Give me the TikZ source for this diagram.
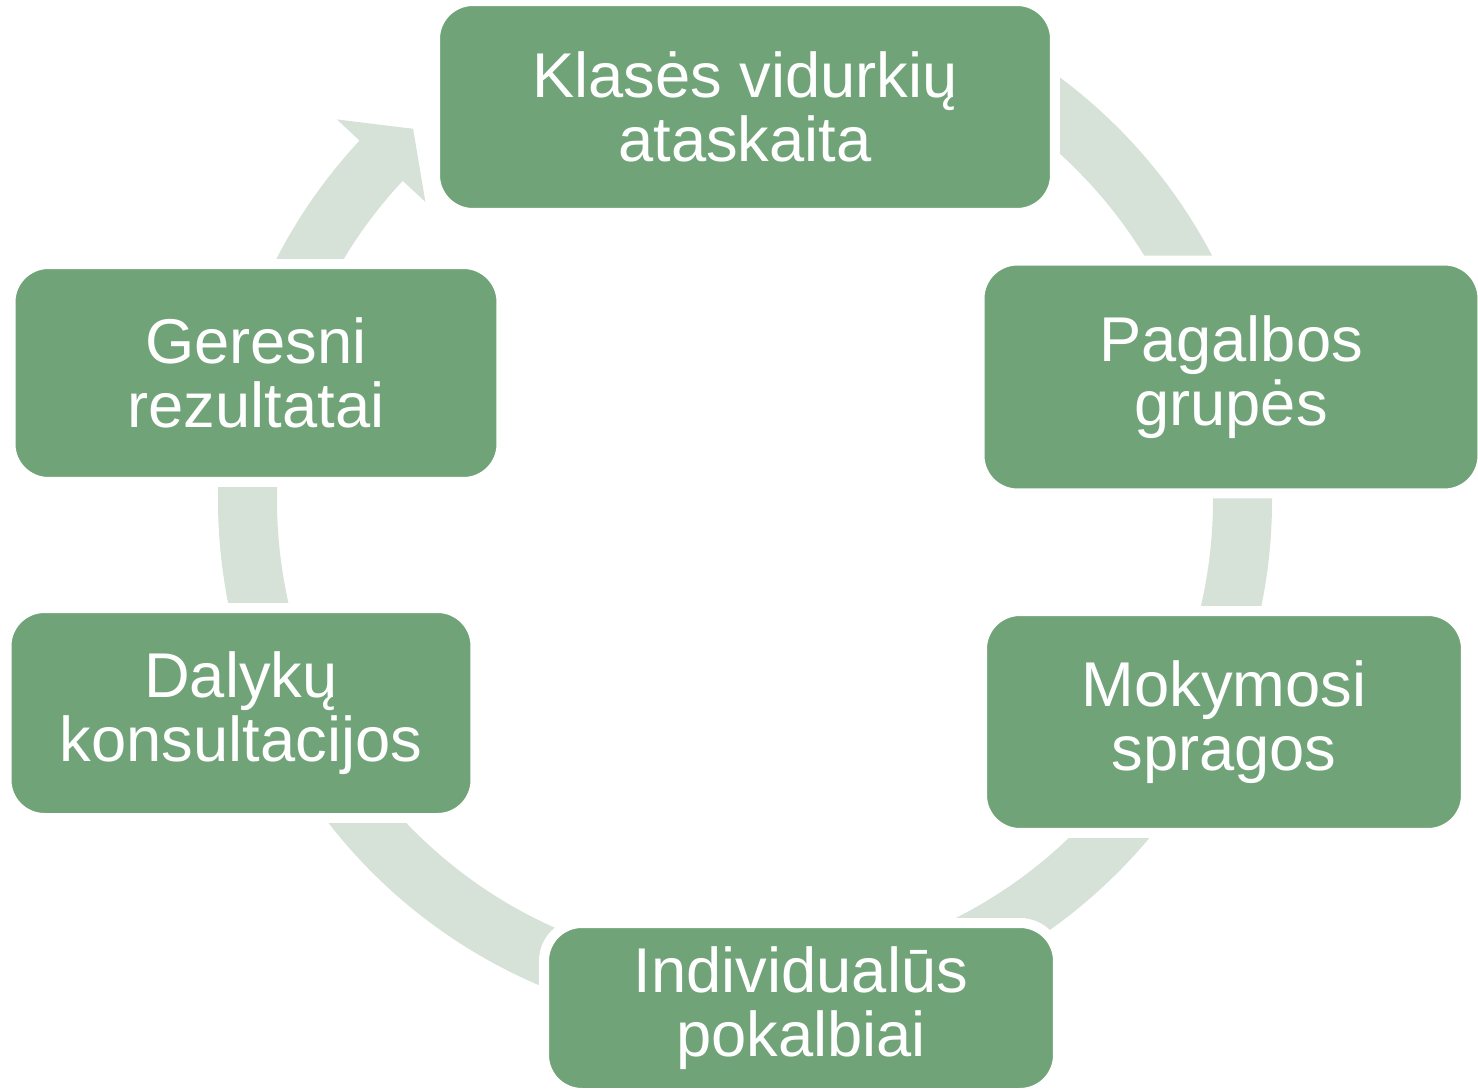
\documentclass[tikz,border=0pt]{standalone}
\usepackage{fontspec}
\setmainfont{Liberation Sans}
\usepackage{xcolor}
\definecolor{boxgreen}{RGB}{113,163,120}
\definecolor{ringgreen}{RGB}{214,225,215}

\begin{document}
\begin{tikzpicture}[x=0.1mm, y=-0.1mm,
  stage/.style={rectangle, rounded corners=3.8mm, fill=boxgreen, draw=white,
    line width=1mm, text=white, align=center, inner sep=0pt,
    font=\fontsize{18}{18.4}\selectfont}]
  \useasboundingbox (0,0) rectangle (1478,1090);

  % Cycle ring, open end hidden under the top box, arrow head before it
  \fill[ringgreen, shift={(745,500)}]
    (95:52.7mm) arc[start angle=95, end angle=-223, radius=52.7mm]
    -- (-223:55.8mm) -- (-228.2:49.8mm) -- (-223:43.7mm)
    -- (-223:46.8mm) arc[start angle=-223, end angle=95, radius=46.8mm]
    -- cycle;

  % Stages, clockwise from the top
  \node[stage, minimum width=62mm, minimum height=21.2mm] (report) at (745,107) {Klasės vidurkių\\ataskaita};
  \node[stage, minimum width=50.3mm, minimum height=23.3mm] (groups) at (1231,377) {Pagalbos\\grupės};
  \node[stage, minimum width=48.4mm, minimum height=22.2mm] (gaps) at (1224,722) {Mokymosi\\spragos};
  \node[stage, minimum width=51.4mm, minimum height=17mm] (talks) at (801,1008) {Individualūs\\pokalbiai};
  \node[stage, minimum width=46.9mm, minimum height=21mm] (consult) at (241,713) {Dalykų\\konsultacijos};
  \node[stage, minimum width=49.1mm, minimum height=21.8mm] (results) at (256,373) {Geresni\\rezultatai};

\end{tikzpicture}
\end{document}
